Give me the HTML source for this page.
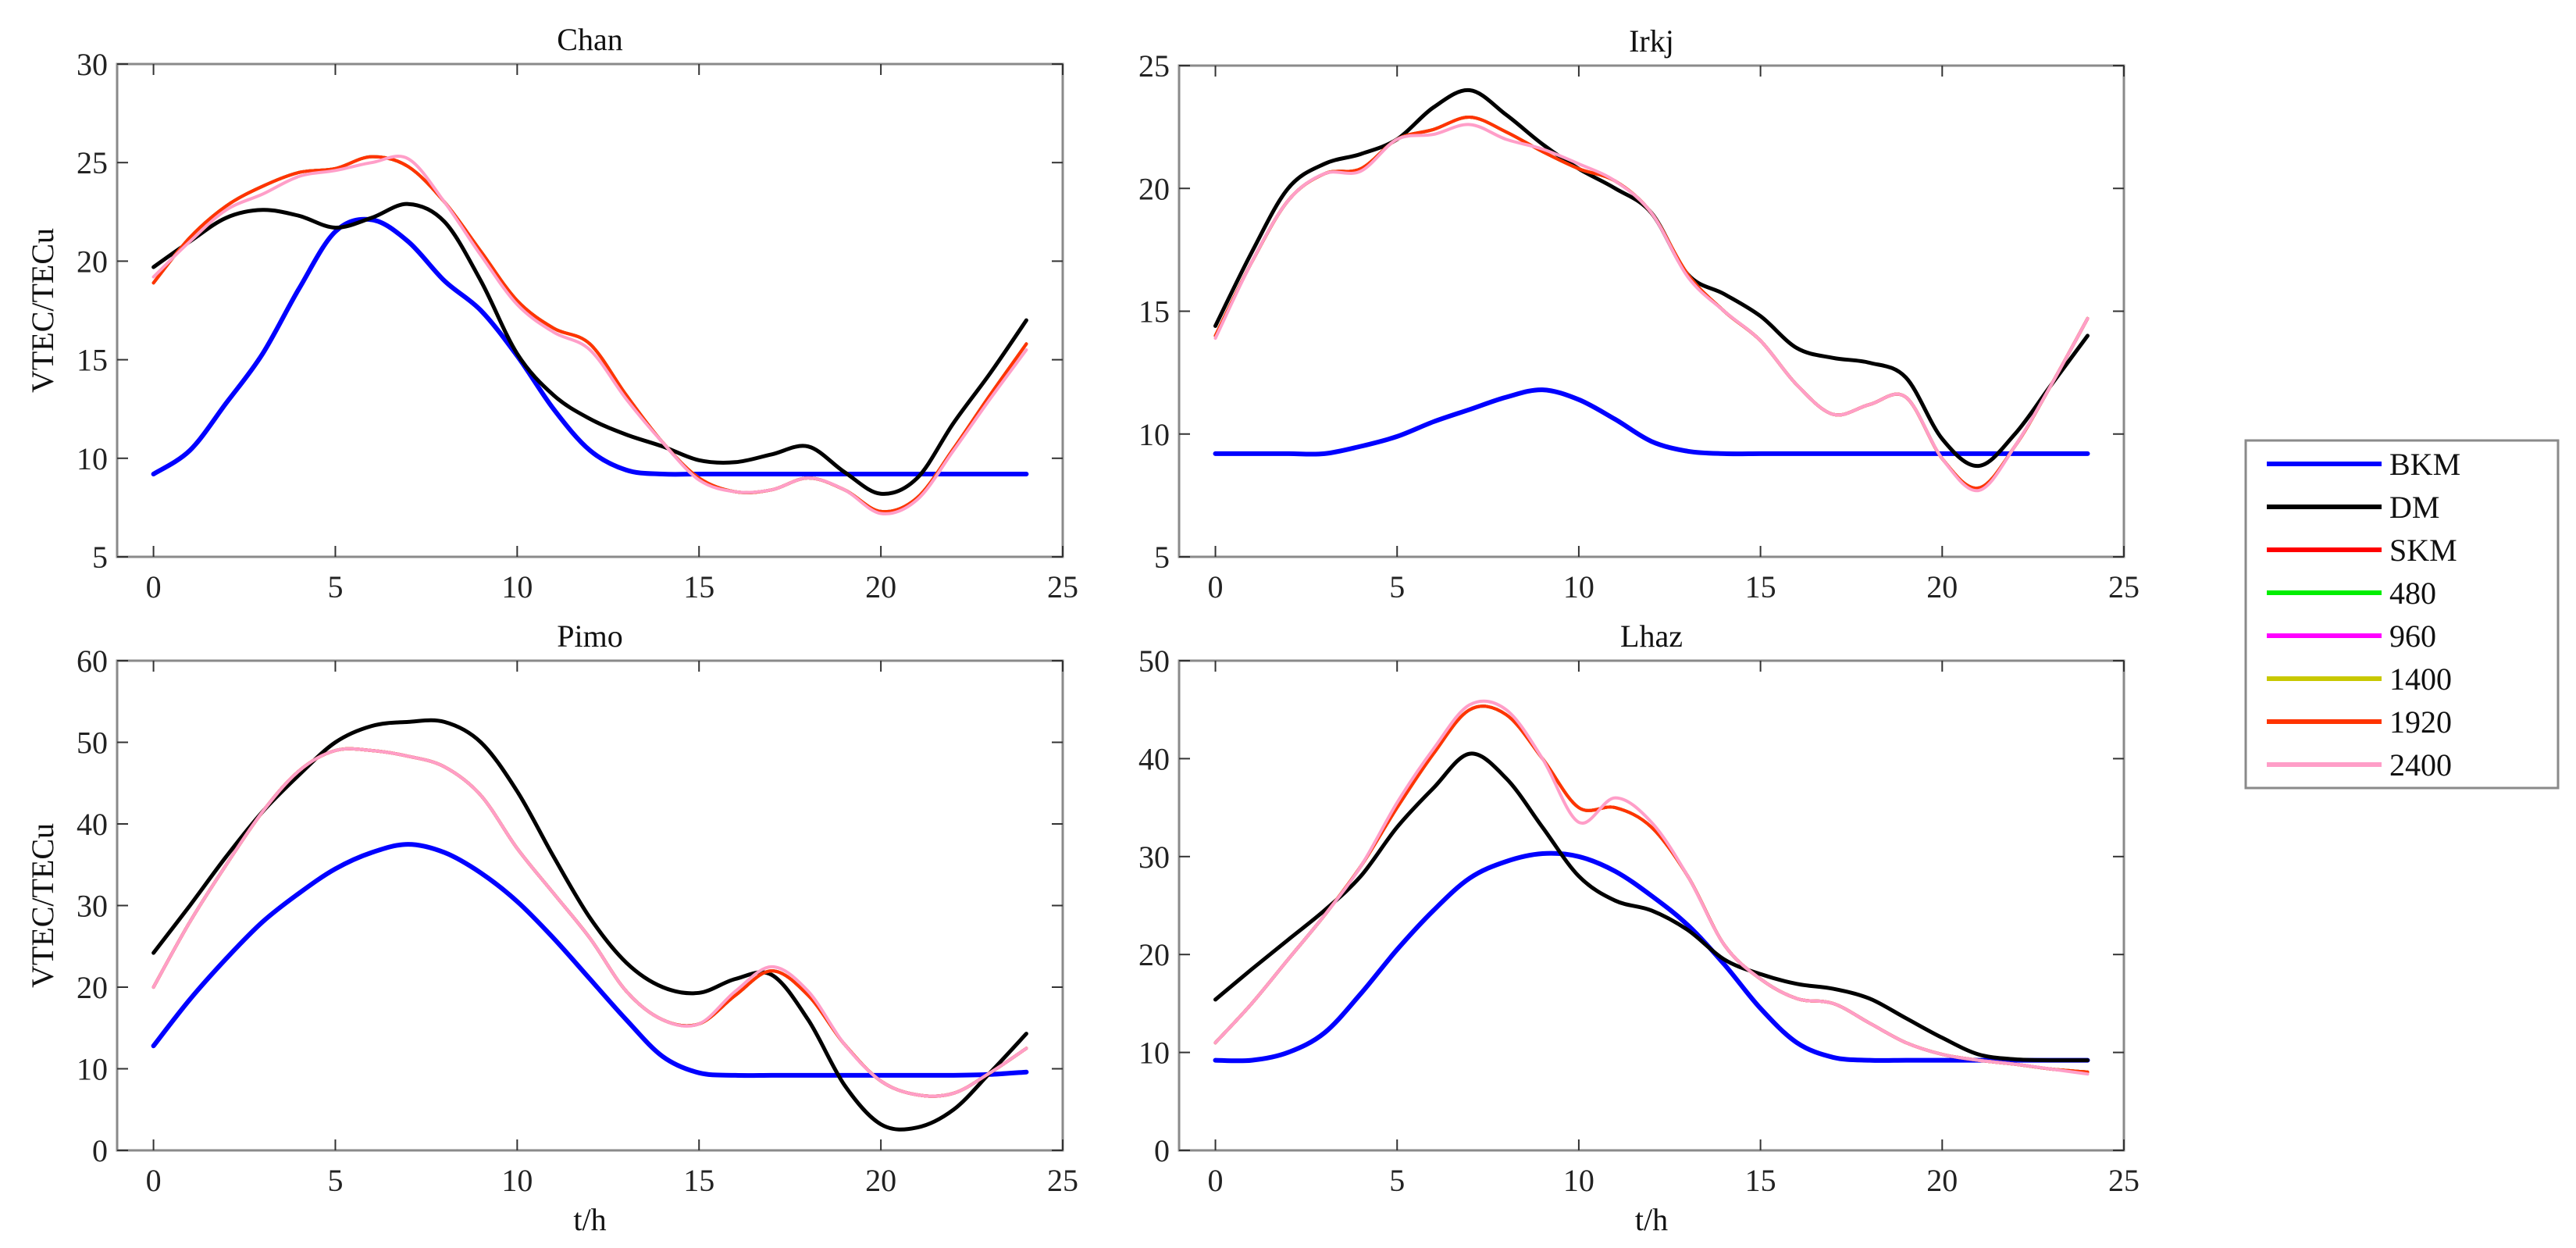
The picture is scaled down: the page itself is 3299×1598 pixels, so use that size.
<!DOCTYPE html>
<html><head><meta charset="utf-8"><style>
html,body{margin:0;padding:0;background:#fff;}
svg{display:block;font-family:"Liberation Serif",serif;}
</style></head><body>
<svg id="fig" width="3299" height="1598" viewBox="0 0 3299 1598" xmlns="http://www.w3.org/2000/svg"></svg>
<script>
const hours=[0,1,2,3,4,5,6,7,8,9,10,11,12,13,14,15,16,17,18,19,20,21,22,23,24];
const seriesNames=["BKM","DM","SKM","480","960","1400","1920","2400"];
const seriesColors=["#0000ff","#000000","#ff0000","#00ee00","#ff00ff","#c8c800","#ff3300","#ff9ec8"];
// Chan
const chanBKM=[9.2,10.4,12.8,15.3,18.6,21.5,22.1,21.0,19.0,17.5,15.2,12.5,10.4,9.4,9.2,9.2,9.2,9.2,9.2,9.2,9.2,9.2,9.2,9.2,9.2];
const chanDM=[19.7,21.0,22.2,22.6,22.3,21.7,22.2,22.9,22.0,19.0,15.3,13.2,12.0,11.2,10.6,9.9,9.8,10.2,10.6,9.3,8.2,9.0,11.8,14.3,17.0];
const chanSKM=[18.9,21.2,22.8,23.8,24.5,24.7,25.3,24.8,23.0,20.5,18.0,16.6,15.8,13.2,10.8,9.0,8.3,8.4,9.0,8.4,7.3,8.0,10.5,13.2,15.8];
const chan2400=[19.2,21.0,22.6,23.4,24.3,24.6,25.0,25.2,23.0,20.3,17.8,16.4,15.5,13.0,10.8,8.9,8.3,8.4,9.0,8.4,7.2,7.9,10.4,13.0,15.5];
// Irkj
const irkjBKM=[9.2,9.2,9.2,9.2,9.5,9.9,10.5,11.0,11.5,11.8,11.4,10.6,9.7,9.3,9.2,9.2,9.2,9.2,9.2,9.2,9.2,9.2,9.2,9.2,9.2];
const irkjDM=[14.4,17.4,20.0,21.0,21.4,22.0,23.3,24.0,23.0,21.8,20.8,20.0,19.0,16.5,15.7,14.8,13.5,13.1,12.9,12.3,9.8,8.7,10.0,12.0,14.0];
const irkjSKM=[14.0,17.0,19.5,20.6,20.8,22.0,22.4,22.9,22.3,21.5,20.8,20.3,19.0,16.5,15.0,13.8,12.0,10.8,11.2,11.5,9.0,7.8,9.5,12.0,14.7];
const irkj2400=[13.9,17.0,19.5,20.6,20.7,22.0,22.2,22.6,22.0,21.6,21.0,20.3,19.0,16.4,15.0,13.8,12.0,10.8,11.2,11.5,9.0,7.7,9.5,12.0,14.7];
// Pimo
const pimoBKM=[12.8,18.5,23.5,28.0,31.5,34.5,36.5,37.5,36.5,34.0,30.5,26.0,21.0,16.0,11.5,9.5,9.2,9.2,9.2,9.2,9.2,9.2,9.2,9.3,9.6];
const pimoDM=[24.2,30,36,41.5,46,50,52,52.5,52.5,50,44,36,28.5,23,20,19.3,21,21.5,16,8,3.2,2.8,5,9.5,14.3];
const pimoSKM=[20,28,35,41.5,46.5,49,49,48.3,47,43.5,37,31.5,26,19.5,16,15.5,19,22,19,13,8.5,6.8,7,9.5,12.5];
const pimo2400=[20,28,35,41.5,46.5,49,49,48.3,47,43.5,37,31.5,26,19.5,16,15.5,19.5,22.5,19.5,13,8.5,6.8,7,9.5,12.5];
// Lhaz
const lhazBKM=[9.2,9.2,10,12,16,20.5,24.5,27.8,29.5,30.3,30,28.5,26,23,19,14.5,11,9.5,9.2,9.2,9.2,9.2,9.2,9.2,9.2];
const lhazDM=[15.4,18.5,21.5,24.5,28,33,37,40.5,38,33,28,25.5,24.5,22.5,19.5,18,17,16.5,15.5,13.5,11.5,9.8,9.3,9.2,9.2];
const lhazSKM=[11,15,19.5,24,29,35,40.5,45,44.5,40,35,35,33,28,21,17.5,15.5,15,13,11,9.8,9.2,8.8,8.3,8.0];
const lhaz2400=[11,15,19.5,24,29,35.5,41,45.5,45,40,33.5,36,33.5,28,21,17.5,15.5,15,13,11,9.8,9.2,8.8,8.3,7.8];
const xTicks=[0,5,10,15,20,25];
const chanYTicks=[5,10,15,20,25,30];
const irkjYTicks=[5,10,15,20,25];
const pimoYTicks=[0,10,20,30,40,50,60];
const lhazYTicks=[0,10,20,30,40,50];

const NS="http://www.w3.org/2000/svg";
const svg=document.getElementById('fig');
function mk(tag,attrs,parent){const e=document.createElementNS(NS,tag);for(const k in attrs)e.setAttribute(k,attrs[k]);(parent||svg).appendChild(e);return e;}
function smoothPath(pts){
  let d="M"+pts[0][0].toFixed(1)+","+pts[0][1].toFixed(1);
  for(let i=0;i<pts.length-1;i++){
    const p0=pts[Math.max(0,i-1)],p1=pts[i],p2=pts[i+1],p3=pts[Math.min(pts.length-1,i+2)];
    const c1x=p1[0]+(p2[0]-p0[0])/6,c1y=p1[1]+(p2[1]-p0[1])/6;
    const c2x=p2[0]-(p3[0]-p1[0])/6,c2y=p2[1]-(p3[1]-p1[1])/6;
    d+=" C"+c1x.toFixed(1)+","+c1y.toFixed(1)+" "+c2x.toFixed(1)+","+c2y.toFixed(1)+" "+p2[0].toFixed(1)+","+p2[1].toFixed(1);
  }
  return d;
}
function panel(cfg){
  const g=mk('g',{});
  
  
  const L=cfg.l,R=cfg.r,T=cfg.t,B=cfg.b;
  const xs=v=>L+(v-(-1))/(26)*(R-L);
  const ys=v=>B-(v-cfg.ymin)/(cfg.ymax-cfg.ymin)*(B-T);
  const bg=mk('rect',{x:L,y:T,width:R-L,height:B-T,fill:'#fff'},g);
  
  
  const clipId='clip-'+cfg.id;
  const cp=mk('clipPath',{id:clipId},g);mk('rect',{x:L,y:T,width:R-L,height:B-T},cp);
  const lines=mk('g',{'clip-path':'url(#'+clipId+')'},g);
  cfg.series.forEach((arr,i)=>{
    const pts=hours.map((h,j)=>[xs(h),ys(arr[j])]);
    const p=mk('path',{d:smoothPath(pts),fill:'none',stroke:seriesColors[i],'stroke-width':i==0?6:(i==1?5:4),'stroke-linejoin':'round','stroke-linecap':'round'},lines);
    
    
  });
  mk('rect',{x:L,y:T,width:R-L,height:B-T,fill:'none',stroke:'#8a8a8a','stroke-width':3},g);
  xTicks.forEach(v=>{
    const x=xs(v);
    mk('line',{x1:x,y1:B,x2:x,y2:B-14,stroke:'#333','stroke-width':2},g);
    mk('line',{x1:x,y1:T,x2:x,y2:T+14,stroke:'#333','stroke-width':2},g);
    const t=mk('text',{x:x,y:B+52,'font-size':40,'text-anchor':'middle',fill:'#222'},g);
    t.textContent=v;
    
    
  });
  cfg.yTicks.forEach(v=>{
    const y=ys(v);
    mk('line',{x1:L,y1:y,x2:L+14,y2:y,stroke:'#333','stroke-width':2},g);
    mk('line',{x1:R,y1:y,x2:R-14,y2:y,stroke:'#333','stroke-width':2},g);
    const t=mk('text',{x:L-12,y:y+14,'font-size':40,'text-anchor':'end',fill:'#222'},g);
    t.textContent=v;
    
    
  });
  const tt=mk('text',{x:(L+R)/2,y:T-18,'font-size':40,'text-anchor':'middle',fill:'#111'},g);
  tt.textContent=cfg.title;
  
  
  if(cfg.ylabel){
    const yl=mk('text',{x:0,y:0,'font-size':40,'text-anchor':'middle',fill:'#111',transform:'translate('+(L-82)+','+((T+B)/2)+') rotate(-90)'},g);
    yl.textContent='VTEC/TECu';
    
    
  }
  if(cfg.xlabel){
    const xl=mk('text',{x:(L+R)/2,y:B+102,'font-size':40,'text-anchor':'middle',fill:'#111'},g);
    xl.textContent='t/h';
    
    
  }
}
panel({id:'chan',title:'Chan',l:150,r:1361,t:82,b:713,ymin:5,ymax:30,yTicks:chanYTicks,ylabel:true,
  series:[chanBKM,chanDM,chanSKM,chanSKM,chanSKM,chanSKM,chanSKM,chan2400]});
panel({id:'irkj',title:'Irkj',l:1510,r:2720,t:84,b:713,ymin:5,ymax:25,yTicks:irkjYTicks,
  series:[irkjBKM,irkjDM,irkjSKM,irkjSKM,irkjSKM,irkjSKM,irkjSKM,irkj2400]});
panel({id:'pimo',title:'Pimo',l:150,r:1361,t:846,b:1473,ymin:0,ymax:60,yTicks:pimoYTicks,ylabel:true,xlabel:true,
  series:[pimoBKM,pimoDM,pimoSKM,pimoSKM,pimoSKM,pimoSKM,pimoSKM,pimo2400]});
panel({id:'lhaz',title:'Lhaz',l:1510,r:2720,t:846,b:1473,ymin:0,ymax:50,yTicks:lhazYTicks,xlabel:true,
  series:[lhazBKM,lhazDM,lhazSKM,lhazSKM,lhazSKM,lhazSKM,lhazSKM,lhaz2400]});

// legend
const lg=mk('g',{});


mk('rect',{x:2876,y:564,width:400,height:445,fill:'#fff',stroke:'#8a8a8a','stroke-width':3},lg);
seriesNames.forEach((n,i)=>{
  const y=594+i*55;
  const ln=mk('line',{x1:2903,y1:y,x2:3050,y2:y,stroke:seriesColors[i],'stroke-width':6},lg);
  
  
  const t=mk('text',{x:3060,y:y+14,'font-size':40,fill:'#111'},lg);
  t.textContent=n;
  
  
});
</script>
</body></html>
